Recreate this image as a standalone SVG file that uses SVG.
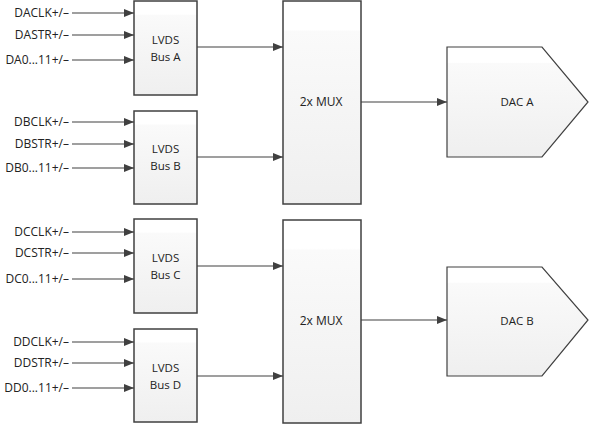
<svg xmlns="http://www.w3.org/2000/svg" width="589" height="424" viewBox="0 0 589 424">
<defs>
<linearGradient id="g" x1="0" y1="0" x2="0" y2="1">
<stop offset="0" stop-color="#ffffff"/>
<stop offset="0.14" stop-color="#ffffff"/>
<stop offset="0.15" stop-color="#fafafa"/>
<stop offset="1" stop-color="#efefef"/>
</linearGradient>
<marker id="ah" viewBox="0 0 10 8" refX="10" refY="4" markerWidth="10" markerHeight="8" markerUnits="userSpaceOnUse" orient="auto">
<path d="M0,0 L10,4 L0,8 Z" fill="#404040"/>
</marker>
<style>
.box{fill:url(#g);stroke:#404040;stroke-width:1.5}
.dac{fill:url(#g);stroke:#404040;stroke-width:1.2}
.t{font-family:"Open Sans","Liberation Sans",sans-serif;font-size:12px;fill:#222}
.s{font-size:11.5px}
.c{text-anchor:middle}
.r{text-anchor:end}
.ln{stroke:#404040;stroke-width:1.2;fill:none;marker-end:url(#ah)}
</style>
</defs>
<rect width="589" height="424" fill="#ffffff"/>
<g id="busA"><rect class="box" x="134" y="1" width="63" height="94"/><text class="t s c" x="165.5" y="44">LVDS</text><text class="t s c" x="165.5" y="61">Bus A</text></g>
<g id="busB"><rect class="box" x="134" y="111" width="63" height="93"/><text class="t s c" x="165.5" y="153">LVDS</text><text class="t s c" x="165.5" y="170">Bus B</text></g>
<g id="busC"><rect class="box" x="134" y="219" width="63" height="94"/><text class="t s c" x="165.5" y="262">LVDS</text><text class="t s c" x="165.5" y="279">Bus C</text></g>
<g id="busD"><rect class="box" x="134" y="329" width="63" height="93"/><text class="t s c" x="165.5" y="372">LVDS</text><text class="t s c" x="165.5" y="389">Bus D</text></g>
<g id="mux1"><rect class="box" x="283" y="1" width="78" height="203"/><text class="t c" x="321" y="106">2x MUX</text></g>
<g id="mux2"><rect class="box" x="283" y="220" width="78" height="203"/><text class="t c" x="321" y="325">2x MUX</text></g>
<g id="dacA"><path class="dac" d="M447,47 L542,47 L588,102 L542,157 L447,157 Z"/><text class="t s c" x="517" y="106">DAC A</text></g>
<g id="dacB"><path class="dac" d="M447,267 L542,267 L588,320 L542,376 L447,376 Z"/><text class="t s c" x="517" y="325">DAC B</text></g>
<g id="labels">
<text class="t r" x="69" y="17">DACLK+/–</text>
<text class="t r" x="69" y="39">DASTR+/–</text>
<text class="t r" x="69" y="64">DA0...11+/–</text>
<text class="t r" x="69" y="126">DBCLK+/–</text>
<text class="t r" x="69" y="148">DBSTR+/–</text>
<text class="t r" x="69" y="172">DB0...11+/–</text>
<text class="t r" x="69" y="236">DCCLK+/–</text>
<text class="t r" x="69" y="257">DCSTR+/–</text>
<text class="t r" x="69" y="283">DC0...11+/–</text>
<text class="t r" x="69" y="346">DDCLK+/–</text>
<text class="t r" x="69" y="367">DDSTR+/–</text>
<text class="t r" x="69" y="392">DD0...11+/–</text>
</g>
<g id="connectors">
<line class="ln" x1="72" y1="13" x2="134" y2="13"/>
<line class="ln" x1="72" y1="35" x2="134" y2="35"/>
<line class="ln" x1="72" y1="60" x2="134" y2="60"/>
<line class="ln" x1="72" y1="122" x2="134" y2="122"/>
<line class="ln" x1="72" y1="144" x2="134" y2="144"/>
<line class="ln" x1="72" y1="168" x2="134" y2="168"/>
<line class="ln" x1="72" y1="232" x2="134" y2="232"/>
<line class="ln" x1="72" y1="253" x2="134" y2="253"/>
<line class="ln" x1="72" y1="279" x2="134" y2="279"/>
<line class="ln" x1="72" y1="342" x2="134" y2="342"/>
<line class="ln" x1="72" y1="363" x2="134" y2="363"/>
<line class="ln" x1="72" y1="388" x2="134" y2="388"/>
<line class="ln" x1="197" y1="47" x2="283" y2="47"/>
<line class="ln" x1="197" y1="157" x2="283" y2="157"/>
<line class="ln" x1="197" y1="266" x2="283" y2="266"/>
<line class="ln" x1="197" y1="376" x2="283" y2="376"/>
<line class="ln" x1="361" y1="102" x2="447" y2="102"/>
<line class="ln" x1="361" y1="320" x2="447" y2="320"/>
</g>
</svg>
